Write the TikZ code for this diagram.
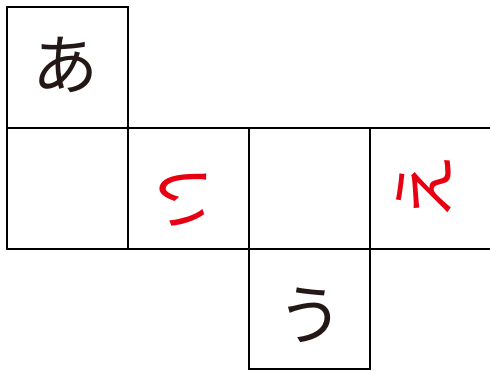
\documentclass[tikz,border=0pt]{standalone}
\usepackage{fontspec}
\newfontfamily\jpfont{Noto Sans CJK JP}
\definecolor{inkblack}{RGB}{35,24,21}
\definecolor{kanared}{RGB}{230,0,18}
\tikzset{
  gridline/.style={line width=2.5pt, black},
  kana/.style={font=\jpfont\fontsize{66}{66}\selectfont, inner sep=0pt, text=inkblack},
  redkana/.style={kana, text=kanared}
}
\begin{document}
\begin{tikzpicture}[x=1pt,y=-1pt]
\useasboundingbox (0,0) rectangle (490,371);
% top square
\draw[gridline] (7,7) rectangle (128,128);
% middle row
\draw[gridline] (495,128) -- (7,128) -- (7,249) -- (495,249);
\draw[gridline] (128,128) -- (128,249);
\draw[gridline] (249,128) -- (249,249);
\draw[gridline] (370,128) -- (370,249);
% bottom square
\draw[gridline] (249,249) rectangle (370,369);
% texts
\node[kana] (a) at (65,65) {あ};
\node[redkana, rotate=-90] (i) at (183,199) {い};
\node[redkana, rotate=90] (e) at (424,188) {え};
\node[kana] (u) at (310,315) {う};
\end{tikzpicture}
\end{document}
